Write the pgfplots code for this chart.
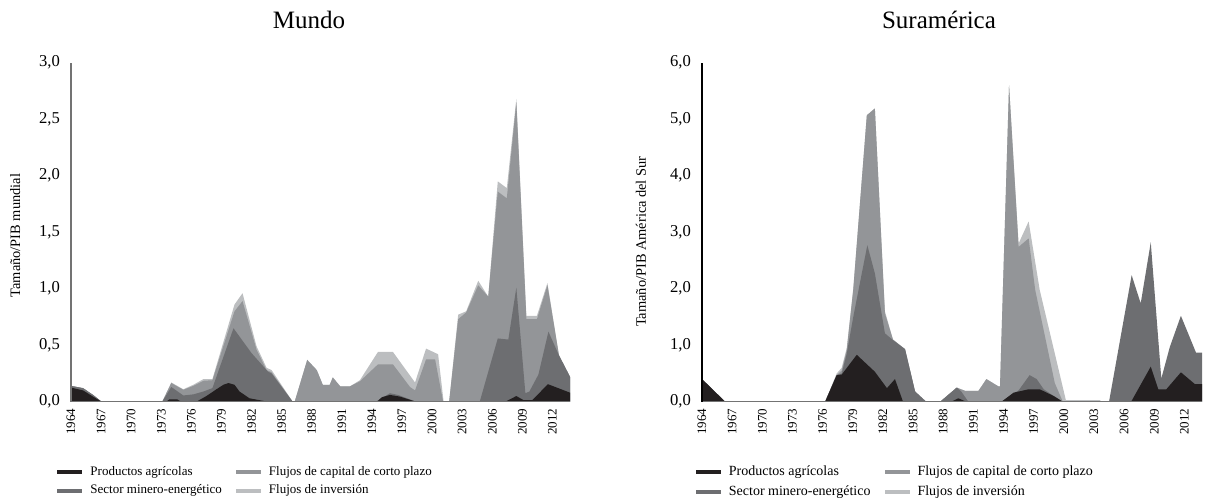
\documentclass[border=0pt]{standalone}
\usepackage{fontspec}
\setmainfont{Liberation Serif}
\usepackage{pgfplots}
\pgfplotsset{compat=1.18}

\definecolor{agri}{HTML}{231F20}
\definecolor{mine}{HTML}{6D6E71}
\definecolor{capi}{HTML}{939598}
\definecolor{inve}{HTML}{BCBEC0}

\pgfplotsset{
  panel/.style={
    scale only axis, height=169.5pt,
    xmin=1964, xmax=2013.75, ymin=0,
    axis on top,
    axis x line*=bottom, axis y line*=left,
    x axis line style={-, draw=black!55, line width=0.7pt},
    major tick length=0pt,
    xtick={1964,1967,...,2012},
    /pgf/number format/assume math mode=true,
    xticklabel style={rotate=90, anchor=east, font=\fontsize{6.5}{7.5}\selectfont,
      /pgf/number format/1000 sep={}},
    yticklabel style={xshift=-2pt, font=\fontsize{8.3}{9}\selectfont,
      /pgf/number format/.cd, fixed, fixed zerofill, precision=1, use comma},
    ylabel style={anchor=center, font=\fontsize{7.2}{8}\selectfont},
    title style={anchor=center, font=\fontsize{12.5}{14}\selectfont},
    legend columns=2, transpose legend, legend cell align=left,
    legend image code/.code={\fill[##1] (0pt,-1pt) rectangle (12.5pt,1pt);
      \path (14.5pt,0pt);},
    legend style={draw=none, fill=none, anchor=north west, row sep=-0.6pt,
      /tikz/every even column/.append style={column sep=5pt}},
  },
}

\begin{document}
\begin{tikzpicture}
\path[use as bounding box] (-35.5pt,-48.65pt) rectangle (567.5pt,200.85pt);

% Mundo
\begin{axis}[panel, at={(0pt,0pt)}, anchor=south west, width=249.5pt,
    ymax=3, ytick={0,0.5,...,3},
    y axis line style={-, draw=black!55, line width=0.7pt},
    title={Mundo},
    title style={at={(axis description cs:0.477,1.0906)}},
    ylabel={Tama\~no/PIB mundial},
    ylabel style={at={(axis description cs:-0.112,0.49)}},
    legend style={at={(axis description cs:-0.04,-0.165)}, font=\fontsize{6.5}{7.5}\selectfont}]
\addlegendimage{fill=agri, draw=none}\addlegendentry{Productos agr\'{\i}colas}
\addlegendimage{fill=mine, draw=none}\addlegendentry{Sector minero-energ\'etico}
\addlegendimage{fill=capi, draw=none}\addlegendentry{Flujos de capital de corto plazo}
\addlegendimage{fill=inve, draw=none}\addlegendentry{Flujos de inversi\'on}

% Flujos de inversion
\addplot[fill=inve, draw=none, forget plot] coordinates {
(1964,0.14)(1965.2,0.12)(1966.2,0.06)(1967.05,0)(1973.1,0)(1974.0,0.17)(1975.2,0.11)(1976.2,0.15)(1977.2,0.20)(1978.1,0.20)(1980.3,0.86)(1981.1,0.96)(1982.5,0.49)(1983.5,0.30)(1984.0,0.28)(1986.1,0)(1986.3,0)(1987.55,0.37)(1988.5,0.28)(1989.1,0.15)(1989.8,0.15)(1990.1,0.215)(1990.85,0.135)(1991.8,0.135)(1992.8,0.19)(1994.6,0.44)(1996.1,0.44)(1998.3,0.17)(1999.4,0.47)(2000.6,0.42)(2001.15,0)(2001.7,0)(2002.6,0.77)(2003.4,0.80)(2004.6,1.07)(2005.6,0.93)(2006.55,1.95)(2007.45,1.89)(2008.4,2.68)(2009.4,0.76)(2010.45,0.76)(2011.5,1.05)(2012.65,0.41)(2013.75,0.22)
} \closedcycle;
% Flujos de capital de corto plazo
\addplot[fill=capi, draw=none, forget plot] coordinates {
(1964,0.14)(1965.2,0.12)(1966.2,0.06)(1967.05,0)(1973.1,0)(1974.0,0.165)(1975.2,0.105)(1976.2,0.14)(1977.2,0.185)(1978.1,0.19)(1980.3,0.80)(1981.1,0.89)(1982.5,0.46)(1983.5,0.28)(1984.0,0.26)(1986.1,0)(1986.3,0)(1987.55,0.37)(1988.5,0.28)(1989.1,0.15)(1989.8,0.15)(1990.1,0.215)(1990.85,0.135)(1991.8,0.135)(1992.8,0.18)(1994.6,0.33)(1996.1,0.33)(1997.8,0.13)(1998.3,0.10)(1999.4,0.375)(2000.3,0.375)(2001.1,0)(2001.7,0)(2002.6,0.73)(2003.4,0.79)(2004.6,1.03)(2005.6,0.93)(2006.55,1.86)(2007.45,1.80)(2008.4,2.65)(2009.4,0.73)(2010.45,0.73)(2011.5,1.03)(2012.65,0.41)(2013.75,0.22)
} \closedcycle;
% Sector minero-energetico
\addplot[fill=mine, draw=none, forget plot] coordinates {
(1964,0.14)(1965.2,0.12)(1966.2,0.06)(1967.05,0)(1973.1,0)(1974.0,0.13)(1975.2,0.055)(1976.2,0.065)(1977.2,0.09)(1978.1,0.12)(1980.2,0.65)(1982.0,0.43)(1983.65,0.265)(1984.0,0.25)(1986.1,0)(1994.4,0)(1995.8,0.075)(1996.6,0.06)(1998.4,0)(2004.75,0)(2006.55,0.56)(2007.6,0.55)(2008.4,1.01)(2009.3,0.075)(2009.7,0.09)(2010.6,0.24)(2011.6,0.62)(2012.65,0.41)(2013.75,0.22)
} \closedcycle;
% Productos agricolas
\addplot[fill=agri, draw=none, forget plot] coordinates {
(1964,0.125)(1965.2,0.10)(1966.2,0.045)(1967.05,0)(1973.5,0)(1973.8,0.02)(1974.6,0.02)(1975,0)(1976.5,0)(1977.5,0.05)(1978.5,0.11)(1979.2,0.15)(1979.7,0.165)(1980.3,0.15)(1980.8,0.09)(1981.8,0.03)(1983.3,0.005)(1983.8,0)(1994.5,0)(1995.0,0.04)(1995.8,0.06)(1996.8,0.045)(1998.4,0)(2007.3,0)(2008.4,0.05)(2009.1,0.015)(2010.0,0.015)(2011.55,0.155)(2013.75,0.08)
} \closedcycle;
\end{axis}

% Suramerica
\begin{axis}[panel, at={(315.5pt,0pt)}, anchor=south west, width=250pt,
    ymax=6, ytick={0,1,...,6},
    y axis line style={-, draw=black, line width=0.7pt},
    title={Suram\'erica},
    title style={at={(axis description cs:0.474,1.0906)}},
    ylabel={Tama\~no/PIB Am\'erica del Sur},
    ylabel style={at={(axis description cs:-0.122,0.472)}},
    legend style={at={(axis description cs:-0.025,-0.165)}, font=\fontsize{7}{8}\selectfont}]
\addlegendimage{fill=agri, draw=none}\addlegendentry{Productos agr\'{\i}colas}
\addlegendimage{fill=mine, draw=none}\addlegendentry{Sector minero-energ\'etico}
\addlegendimage{fill=capi, draw=none}\addlegendentry{Flujos de capital de corto plazo}
\addlegendimage{fill=inve, draw=none}\addlegendentry{Flujos de inversi\'on}

\addplot[fill=inve, draw=none, forget plot] coordinates {
(1964,0.40)(1966.3,0)(1976.25,0)(1977.4,0.50)(1977.9,0.6)(1978.4,0.95)(1979.05,2.0)(1980.4,5.07)(1981.2,5.19)(1982.2,1.6)(1983.0,1.10)(1984.2,0.93)(1985.2,0.18)(1986.3,0)(1987.7,0)(1989.35,0.25)(1990.2,0.19)(1991.5,0.19)(1992.3,0.40)(1993.5,0.27)(1993.65,0.27)(1994.55,5.6)(1995.5,2.80)(1996.5,3.19)(1997.6,1.98)(2000.2,0.03)(2003.6,0.03)(2003.7,0)(2013.75,0)
} \closedcycle;
\addplot[fill=capi, draw=none, forget plot] coordinates {
(1964,0.40)(1966.3,0)(1976.25,0)(1977.4,0.47)(1977.9,0.55)(1978.4,0.91)(1979.05,1.98)(1980.4,5.07)(1981.2,5.19)(1982.2,1.56)(1983.0,1.10)(1984.2,0.93)(1985.2,0.18)(1986.3,0)(1987.7,0)(1989.35,0.25)(1990.2,0.19)(1991.5,0.19)(1992.3,0.40)(1993.5,0.27)(1993.65,0.27)(1994.55,5.6)(1995.5,2.74)(1996.5,2.89)(1997.15,1.98)(1999.1,0.33)(1999.9,0)(2013.75,0)
} \closedcycle;
\addplot[fill=mine, draw=none, forget plot] coordinates {
(1964,0.40)(1966.3,0)(1976.25,0)(1977.4,0.47)(1977.9,0.50)(1978.4,0.85)(1979.05,1.5)(1980.45,2.77)(1981.2,2.27)(1982.2,1.21)(1983.0,1.09)(1984.2,0.93)(1985.2,0.18)(1986.3,0)(1987.7,0)(1989.35,0.25)(1989.8,0.18)(1990.5,0)(1993.8,0)(1995.5,0.2)(1996.6,0.47)(1997.3,0.40)(1998.0,0.22)(1999.0,0.10)(1999.9,0)(2004.5,0)(2006.75,2.24)(2007.65,1.74)(2008.65,2.82)(2009.7,0.41)(2010.55,0.97)(2011.65,1.52)(2013.15,0.87)(2013.75,0.87)
} \closedcycle;
\addplot[fill=agri, draw=none, forget plot] coordinates {
(1964,0.40)(1966.3,0)(1976.25,0)(1977.4,0.47)(1977.9,0.48)(1979.4,0.83)(1981.2,0.53)(1982.4,0.24)(1983.2,0.40)(1984.0,0)(1988.8,0)(1989.5,0.06)(1990.3,0)(1993.8,0)(1995.0,0.16)(1996.5,0.22)(1997.6,0.22)(1999.0,0.10)(1999.9,0)(2006.7,0)(2008.65,0.62)(2009.4,0.22)(2010.2,0.22)(2011.65,0.52)(2013.05,0.31)(2013.75,0.31)
} \closedcycle;
\end{axis}
\end{tikzpicture}
\end{document}
